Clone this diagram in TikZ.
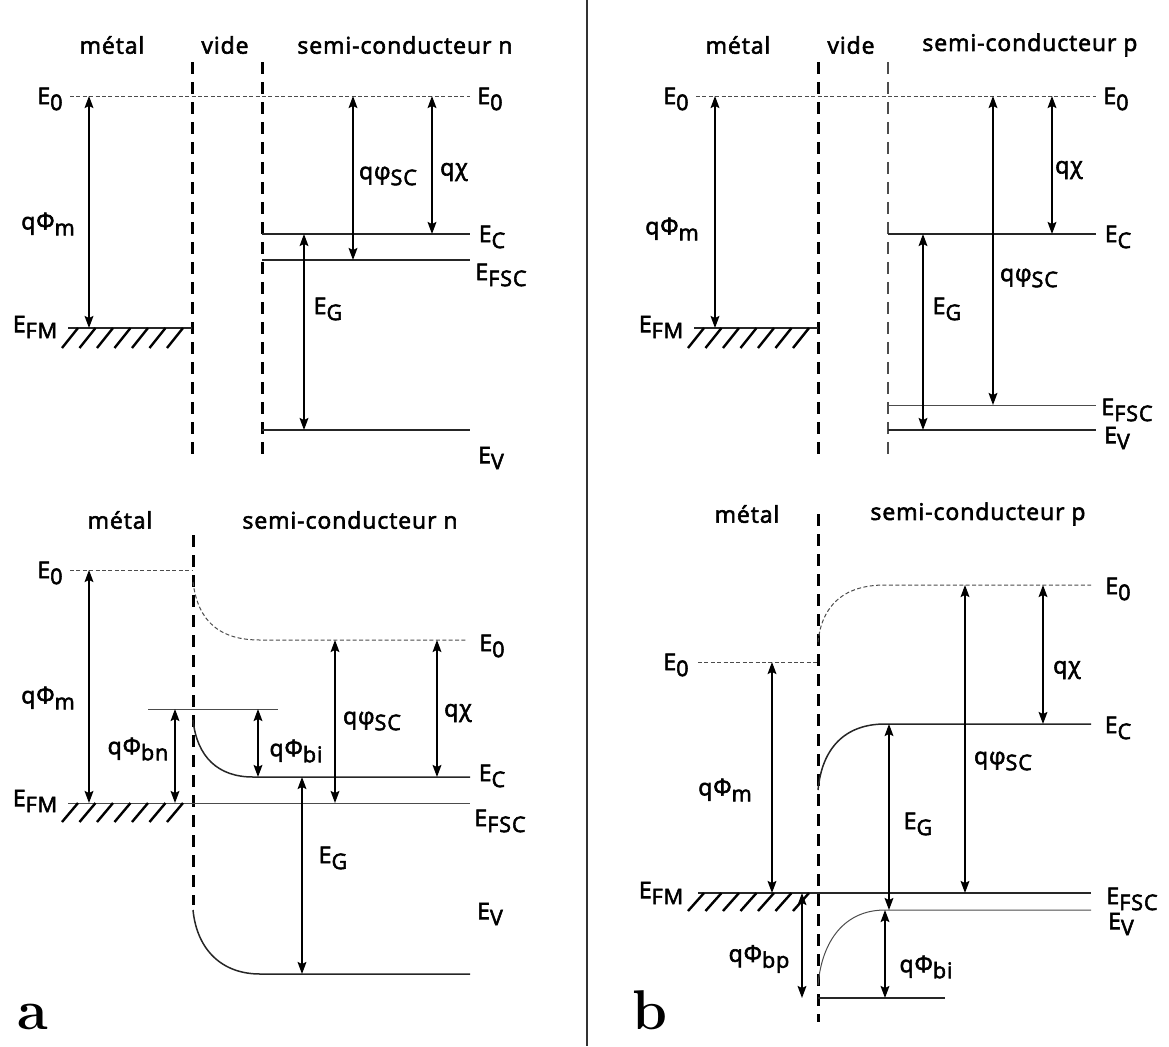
\documentclass[tikz,border=0pt]{standalone}
\usepackage{fontspec}
\setsansfont{Open Sans}[FakeBold=2.5, LetterSpace=4]
\usetikzlibrary{arrows.meta}

\newcommand{\lo}[1]{\raisebox{-3pt}{\fontsize{10.8}{11}\selectfont #1}}

\begin{document}
\begin{tikzpicture}[
    x=0.5pt, y=-0.5pt,
    txt/.style={font=\sffamily\fontsize{11.5}{13}\selectfont, inner sep=0pt},
    tag/.style={font=\rmfamily\bfseries\fontsize{28}{28}\selectfont, inner sep=0pt},
    wall/.style={line width=1.5pt, dash pattern=on 6pt off 4pt},
    wallthin/.style={line width=0.6pt, black!70, dash pattern=on 6pt off 4pt},
    vac/.style={line width=0.5pt, black!70, dash pattern=on 2pt off 1.2pt},
    lvl/.style={line width=0.75pt, black!85},
    lvlthin/.style={line width=0.5pt, black!70},
    dim/.style={{Stealth[length=6pt,width=4.4pt,inset=1pt]}-{Stealth[length=6pt,width=4.4pt,inset=1pt]}, line width=0.7pt},
    hatch/.style={line width=1.2pt},
]
\useasboundingbox (0,0) rectangle (1169,1046);

% a, top: separate materials
\node[txt] (aTmet) at (112,45) {métal};
\node[txt] (aTvid) at (225,45) {vide};
\node[txt, anchor=west] (aTsc) at (297,45) {semi-conducteur n};
\draw[wall] (192,62) -- (192,460);
\draw[wall] (262,62) -- (262,460);
\coordinate (aTE0) at (0,96);
\coordinate (aTEM) at (0,328);
\coordinate (aTEC) at (0,234);
\coordinate (aTEF) at (0,260);
\coordinate (aTEV) at (0,430);
\draw[vac] (70,96) -- (470,96);
\draw[lvl] (68,328) -- (192,328);
\foreach \i in {0,...,6} \draw[hatch] (62+17.5*\i,348) -- ++(16,-20);
\draw[lvl] (262,234) -- (470,234);
\draw[lvl] (262,260) -- (470,260);
\draw[lvl] (262,430) -- (470,430);
\node[txt] (aTE0l) at (50,99) {E\lo{0}};
\node[txt] (aTE0r) at (490,99) {E\lo{0}};
\node[txt] (aTEMl) at (35,327) {E\lo{FM}};
\node[txt] (aTECr) at (492,237) {E\lo{C}};
\node[txt] (aTEFr) at (501,275) {E\lo{FSC}};
\node[txt] (aTEVr) at (491,458) {E\lo{V}};
\draw[dim] (89,0 |- aTE0) -- (89,0 |- aTEM);
\draw[dim] (353,0 |- aTE0) -- (353,0 |- aTEF);
\draw[dim] (432,0 |- aTE0) -- (432,0 |- aTEC);
\draw[dim] (304,0 |- aTEC) -- (304,0 |- aTEV);
\node[txt] (aTphm) at (48,224) {qΦ\lo{m}};
\node[txt] (aTphs) at (388,176) {qφ\lo{SC}};
\node[txt] (aTchi) at (454,172) {qχ};
\node[txt] (aTgap) at (328,309) {E\lo{G}};

% a, bottom: contact
\node[txt] (aBmet) at (120,520) {métal};
\node[txt] (aBsc) at (350,520) {semi-conducteur n};
\draw[wall] (193,535) -- (193,905);
\coordinate (aBE0) at (0,570);
\coordinate (aBE0s) at (0,640);
\coordinate (aBbar) at (0,709);
\coordinate (aBEC) at (0,777);
\coordinate (aBEM) at (0,803);
\coordinate (aBEV) at (0,974);
\draw[vac] (70,570) -- (193,570);
\draw[vac] (193,582) .. controls (198,622) and (220,640) .. (260,640) -- (467,640);
\draw[lvlthin] (68,803) -- (470,803);
\foreach \i in {0,...,6} \draw[hatch] (62+17.5*\i,822) -- ++(16,-19);
\draw[lvlthin] (148,709) -- (278,709);
\draw[lvl] (193,720) .. controls (197,757) and (218,777) .. (253,777) -- (470,777);
\draw[lvl] (193,910) .. controls (197,950) and (222,974) .. (260,974) -- (470,974);
\node[txt] (aBE0l) at (50,573) {E\lo{0}};
\node[txt] (aBE0r) at (492,646) {E\lo{0}};
\node[txt] (aBEMl) at (35,801) {E\lo{FM}};
\node[txt] (aBECr) at (492,776) {E\lo{C}};
\node[txt] (aBEFr) at (500,821) {E\lo{FSC}};
\node[txt] (aBEVr) at (490,914) {E\lo{V}};
\draw[dim] (89,0 |- aBE0) -- (89,0 |- aBEM);
\draw[dim] (175,0 |- aBbar) -- (175,0 |- aBEM);
\draw[dim] (258,0 |- aBbar) -- (258,0 |- aBEC);
\draw[dim] (335,0 |- aBE0s) -- (335,0 |- aBEM);
\draw[dim] (437,0 |- aBE0s) -- (437,0 |- aBEC);
\draw[dim] (302,0 |- aBEC) -- (302,0 |- aBEV);
\node[txt] (aBphm) at (48,698) {qΦ\lo{m}};
\node[txt] (aBphn) at (138,749) {qΦ\lo{bn}};
\node[txt] (aBphi) at (296,751) {qΦ\lo{bi}};
\node[txt] (aBphs) at (372,721) {qφ\lo{SC}};
\node[txt] (aBchi) at (458,713) {qχ};
\node[txt] (aBgap) at (333,858) {E\lo{G}};
\node[tag] (aTag) at (33,1017) {a};

% separator
\draw[line width=0.75pt, black!80] (587,0) -- (587,1046);

% b, top: separate materials
\node[txt] (bTmet) at (738,45) {métal};
\node[txt] (bTvid) at (851,45) {vide};
\node[txt, anchor=west] (bTsc) at (922,45) {semi-conducteur p};
\draw[wall] (818,62) -- (818,460);
\draw[wallthin] (888,62) -- (888,460);
\coordinate (bTE0) at (0,96);
\coordinate (bTEM) at (0,328);
\coordinate (bTEC) at (0,234);
\coordinate (bTEF) at (0,405);
\coordinate (bTEV) at (0,430);
\draw[vac] (696,96) -- (1096,96);
\draw[lvl] (694,328) -- (818,328);
\foreach \i in {0,...,6} \draw[hatch] (688+17.5*\i,348) -- ++(16,-20);
\draw[lvl] (888,234) -- (1096,234);
\draw[lvlthin] (888,405) -- (1096,405);
\draw[lvl] (888,430) -- (1096,430);
\node[txt] (bTE0l) at (676,99) {E\lo{0}};
\node[txt] (bTE0r) at (1116,99) {E\lo{0}};
\node[txt] (bTEMl) at (661,327) {E\lo{FM}};
\node[txt] (bTECr) at (1118,237) {E\lo{C}};
\node[txt] (bTEFr) at (1127,410) {E\lo{FSC}};
\node[txt] (bTEVr) at (1117,438) {E\lo{V}};
\draw[dim] (715,0 |- bTE0) -- (715,0 |- bTEM);
\draw[dim] (1052,0 |- bTE0) -- (1052,0 |- bTEC);
\draw[dim] (993,0 |- bTE0) -- (993,0 |- bTEF);
\draw[dim] (923,0 |- bTEC) -- (923,0 |- bTEV);
\node[txt] (bTphm) at (672,229) {qΦ\lo{m}};
\node[txt] (bTchi) at (1069,170) {qχ};
\node[txt] (bTphs) at (1029,278) {qφ\lo{SC}};
\node[txt] (bTgap) at (947,309) {E\lo{G}};

% b, bottom: contact
\node[txt] (bBmet) at (747,514) {métal};
\node[txt] (bBsc) at (978,514) {semi-conducteur p};
\draw[wall] (818,514) -- (818,1022);
\coordinate (bBE0s) at (0,585);
\coordinate (bBE0) at (0,662);
\coordinate (bBEC) at (0,724);
\coordinate (bBEM) at (0,893);
\coordinate (bBEV) at (0,910);
\coordinate (bBbot) at (0,998);
\draw[vac] (698,662) -- (818,662);
\draw[vac] (818,642) .. controls (822,604) and (845,585) .. (885,585) -- (1091,585);
\draw[lvl] (818,790) .. controls (822,748) and (845,724) .. (885,724) -- (1091,724);
\draw[lvl] (698,893) -- (1091,893);
\foreach \i in {0,...,6} \draw[hatch] (688+17.5*\i,911) -- ++(16,-18);
\draw[lvlthin] (818,985) .. controls (822,940) and (845,910) .. (885,910) -- (1091,910);
\draw[lvl] (818,998) -- (945,998);
\node[txt] (bBE0l) at (676,665) {E\lo{0}};
\node[txt] (bBE0r) at (1118,589) {E\lo{0}};
\node[txt] (bBECr) at (1118,728) {E\lo{C}};
\node[txt] (bBEMl) at (661,893) {E\lo{FM}};
\node[txt] (bBEFr) at (1132,899) {E\lo{FSC}};
\node[txt] (bBEVr) at (1121,924) {E\lo{V}};
\draw[dim] (772,0 |- bBE0) -- (772,0 |- bBEM);
\draw[dim] (1043,0 |- bBE0s) -- (1043,0 |- bBEC);
\draw[dim] (965,0 |- bBE0s) -- (965,0 |- bBEM);
\draw[dim] (889,0 |- bBEC) -- (889,0 |- bBEV);
\draw[dim] (802,0 |- bBEM) -- (802,0 |- bBbot);
\draw[dim] (885,0 |- bBEV) -- (885,0 |- bBbot);
\node[txt] (bBphm) at (725,790) {qΦ\lo{m}};
\node[txt] (bBchi) at (1067,670) {qχ};
\node[txt] (bBphs) at (1003,761) {qφ\lo{SC}};
\node[txt] (bBgap) at (918,824) {E\lo{G}};
\node[txt] (bBphp) at (759,959) {qΦ\lo{bp}};
\node[txt] (bBphi) at (926,967) {qΦ\lo{bi}};
\node[tag] (bTag) at (650,1010) {b};

\end{tikzpicture}
\end{document}
